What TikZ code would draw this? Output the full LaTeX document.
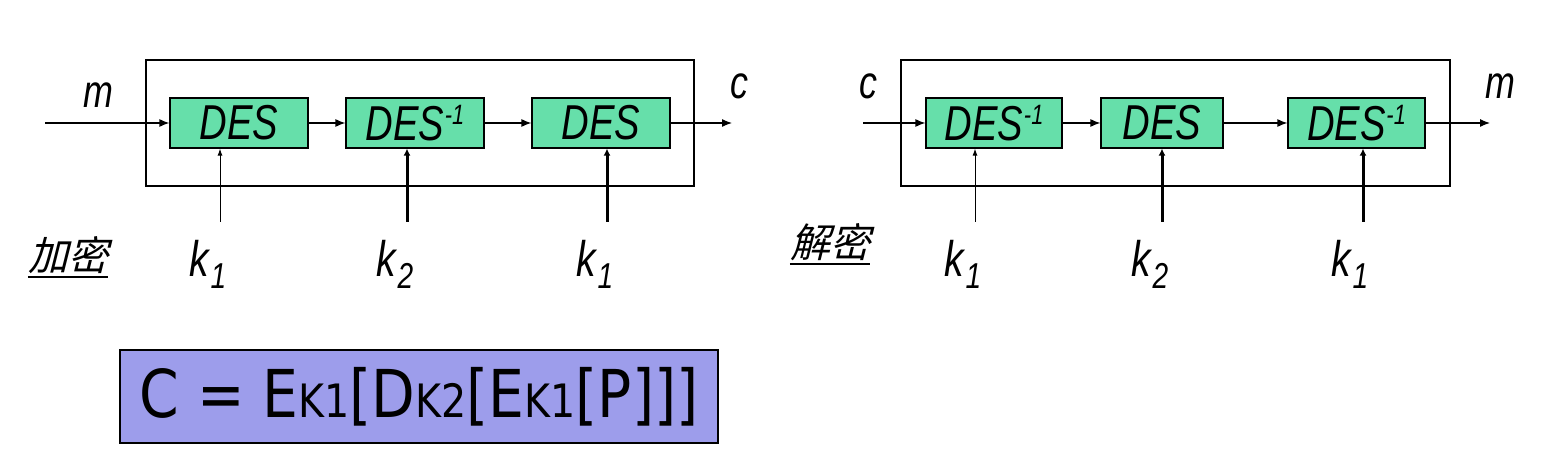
\documentclass[tikz,border=0pt]{standalone}
\usepackage{fontspec}
\setmainfont{Liberation Sans}
\newfontfamily\cjk[FakeSlant=0.25]{Noto Sans CJK SC}
\newfontfamily\formfont{DejaVu Sans}
\usetikzlibrary{arrows.meta}
\definecolor{desgreen}{HTML}{66DFAA}
\definecolor{formblue}{HTML}{9D9DEB}
\tikzset{
  desbox/.style={draw=black, line width=1.2pt, fill=desgreen, inner sep=0pt,
    minimum height=50pt, font=\fontsize{49}{49}\selectfont\itshape},
  frame/.style={draw=black, line width=1.4pt, inner sep=0pt, minimum height=126pt},
  flow/.style={line width=1.2pt, -{Latex[length=10pt,width=8pt]}},
  keythin/.style={line width=1pt, -{Latex[length=7pt,width=5pt]}},
  keythick/.style={line width=3pt, -{Latex[length=7pt,width=7pt]}},
  lbl/.style={inner sep=0pt, font=\fontsize{46}{46}\selectfont\itshape},
  keylbl/.style={inner sep=0pt, font=\fontsize{50}{50}\selectfont\itshape},
  cnlbl/.style={inner sep=0pt, font=\fontsize{40}{40}\selectfont\cjk},
}
\newcommand{\cond}[1]{\scalebox{0.78}[1]{#1}}
\newcommand{\desname}{\cond{DES}}
\newcommand{\desinv}{\cond{DES\kern1pt\raisebox{0.62ex}{\fontsize{28}{28}\selectfont -1}}}
\newcommand{\kk}[1]{\cond{k\kern2pt\raisebox{-0.45ex}{\fontsize{36}{36}\selectfont #1}}}
\newcommand{\fsub}[1]{{\fontsize{46}{46}\selectfont #1}}
\begin{document}
\begin{tikzpicture}[x=1pt,y=-1pt]
\useasboundingbox (0,0) rectangle (1548,462);

% ---------- encryption ----------
\node[frame, minimum width=548pt] (fe) at (420,123) {};
\node[desbox, minimum width=138pt] (b1) at (239,123) {\desname};
\node[desbox, minimum width=138pt] (b2) at (415,123) {\desinv};
\node[desbox, minimum width=138pt] (b3) at (601,123) {\desname};
\coordinate (inE) at (45,123);
\coordinate (outE) at (732,123);
\draw[flow] (inE) -- (b1.west);
\draw[flow] (b1.east) -- (b2.west);
\draw[flow] (b2.east) -- (b3.west);
\draw[flow] (b3.east) -- (outE);
\node[lbl] (mE) at (98,95) {\cond{m}};
\node[lbl] (cE) at (739,86) {\cond{c}};
\coordinate (kE1) at (220,222);
\coordinate (kE2) at (407,222);
\coordinate (kE3) at (607,222);
\draw[keythin] (kE1) -- (kE1 |- b1.south);
\draw[keythick] (kE2) -- (kE2 |- b2.south);
\draw[keythick] (kE3) -- (kE3 |- b3.south);
\node[keylbl] (lE1) at (208,264) {\kk{1}};
\node[keylbl] (lE2) at (395,264) {\kk{2}};
\node[keylbl] (lE3) at (595,264) {\kk{1}};
\node[cnlbl] (jiami) at (68,255) {加密};
\draw[line width=1.5pt] ([yshift=-3pt]jiami.south west) -- ([yshift=-3pt]jiami.south east);

% ---------- decryption ----------
\node[frame, minimum width=549pt] (fd) at (1175.5,123) {};
\node[desbox, minimum width=136pt] (b4) at (994,123) {\desinv};
\node[desbox, minimum width=122pt] (b5) at (1162,123) {\desname};
\node[desbox, minimum width=137pt] (b6) at (1356.5,123) {\desinv};
\coordinate (inD) at (863,123);
\coordinate (outD) at (1490,123);
\draw[flow] (inD) -- (b4.west);
\draw[flow] (b4.east) -- (b5.west);
\draw[flow] (b5.east) -- (b6.west);
\draw[flow] (b6.east) -- (outD);
\node[lbl] (cD) at (868,86) {\cond{c}};
\node[lbl] (mD) at (1500,86) {\cond{m}};
\coordinate (kD1) at (975,222);
\coordinate (kD2) at (1162,222);
\coordinate (kD3) at (1363,222);
\draw[keythin] (kD1) -- (kD1 |- b4.south);
\draw[keythick] (kD2) -- (kD2 |- b5.south);
\draw[keythick] (kD3) -- (kD3 |- b6.south);
\node[keylbl] (lD1) at (963,264) {\kk{1}};
\node[keylbl] (lD2) at (1150,264) {\kk{2}};
\node[keylbl] (lD3) at (1350,264) {\kk{1}};
\node[cnlbl] (jiemi) at (830,242) {解密};
\draw[line width=1.5pt] ([yshift=-3pt]jiemi.south west) -- ([yshift=-3pt]jiemi.south east);

% ---------- formula ----------
\node[draw=black, line width=1.2pt, fill=formblue, minimum width=598pt, minimum height=93pt, inner sep=0pt] (form) at (419,396.5) {};
\node[inner sep=0pt, font=\formfont\fontsize{66}{66}\selectfont] (ftext) at ([xshift=0pt]form.center)
  {\scalebox{0.86}[1]{C = E\fsub{K1}[D\fsub{K2}[E\fsub{K1}[P]]]}};
\end{tikzpicture}
\end{document}
